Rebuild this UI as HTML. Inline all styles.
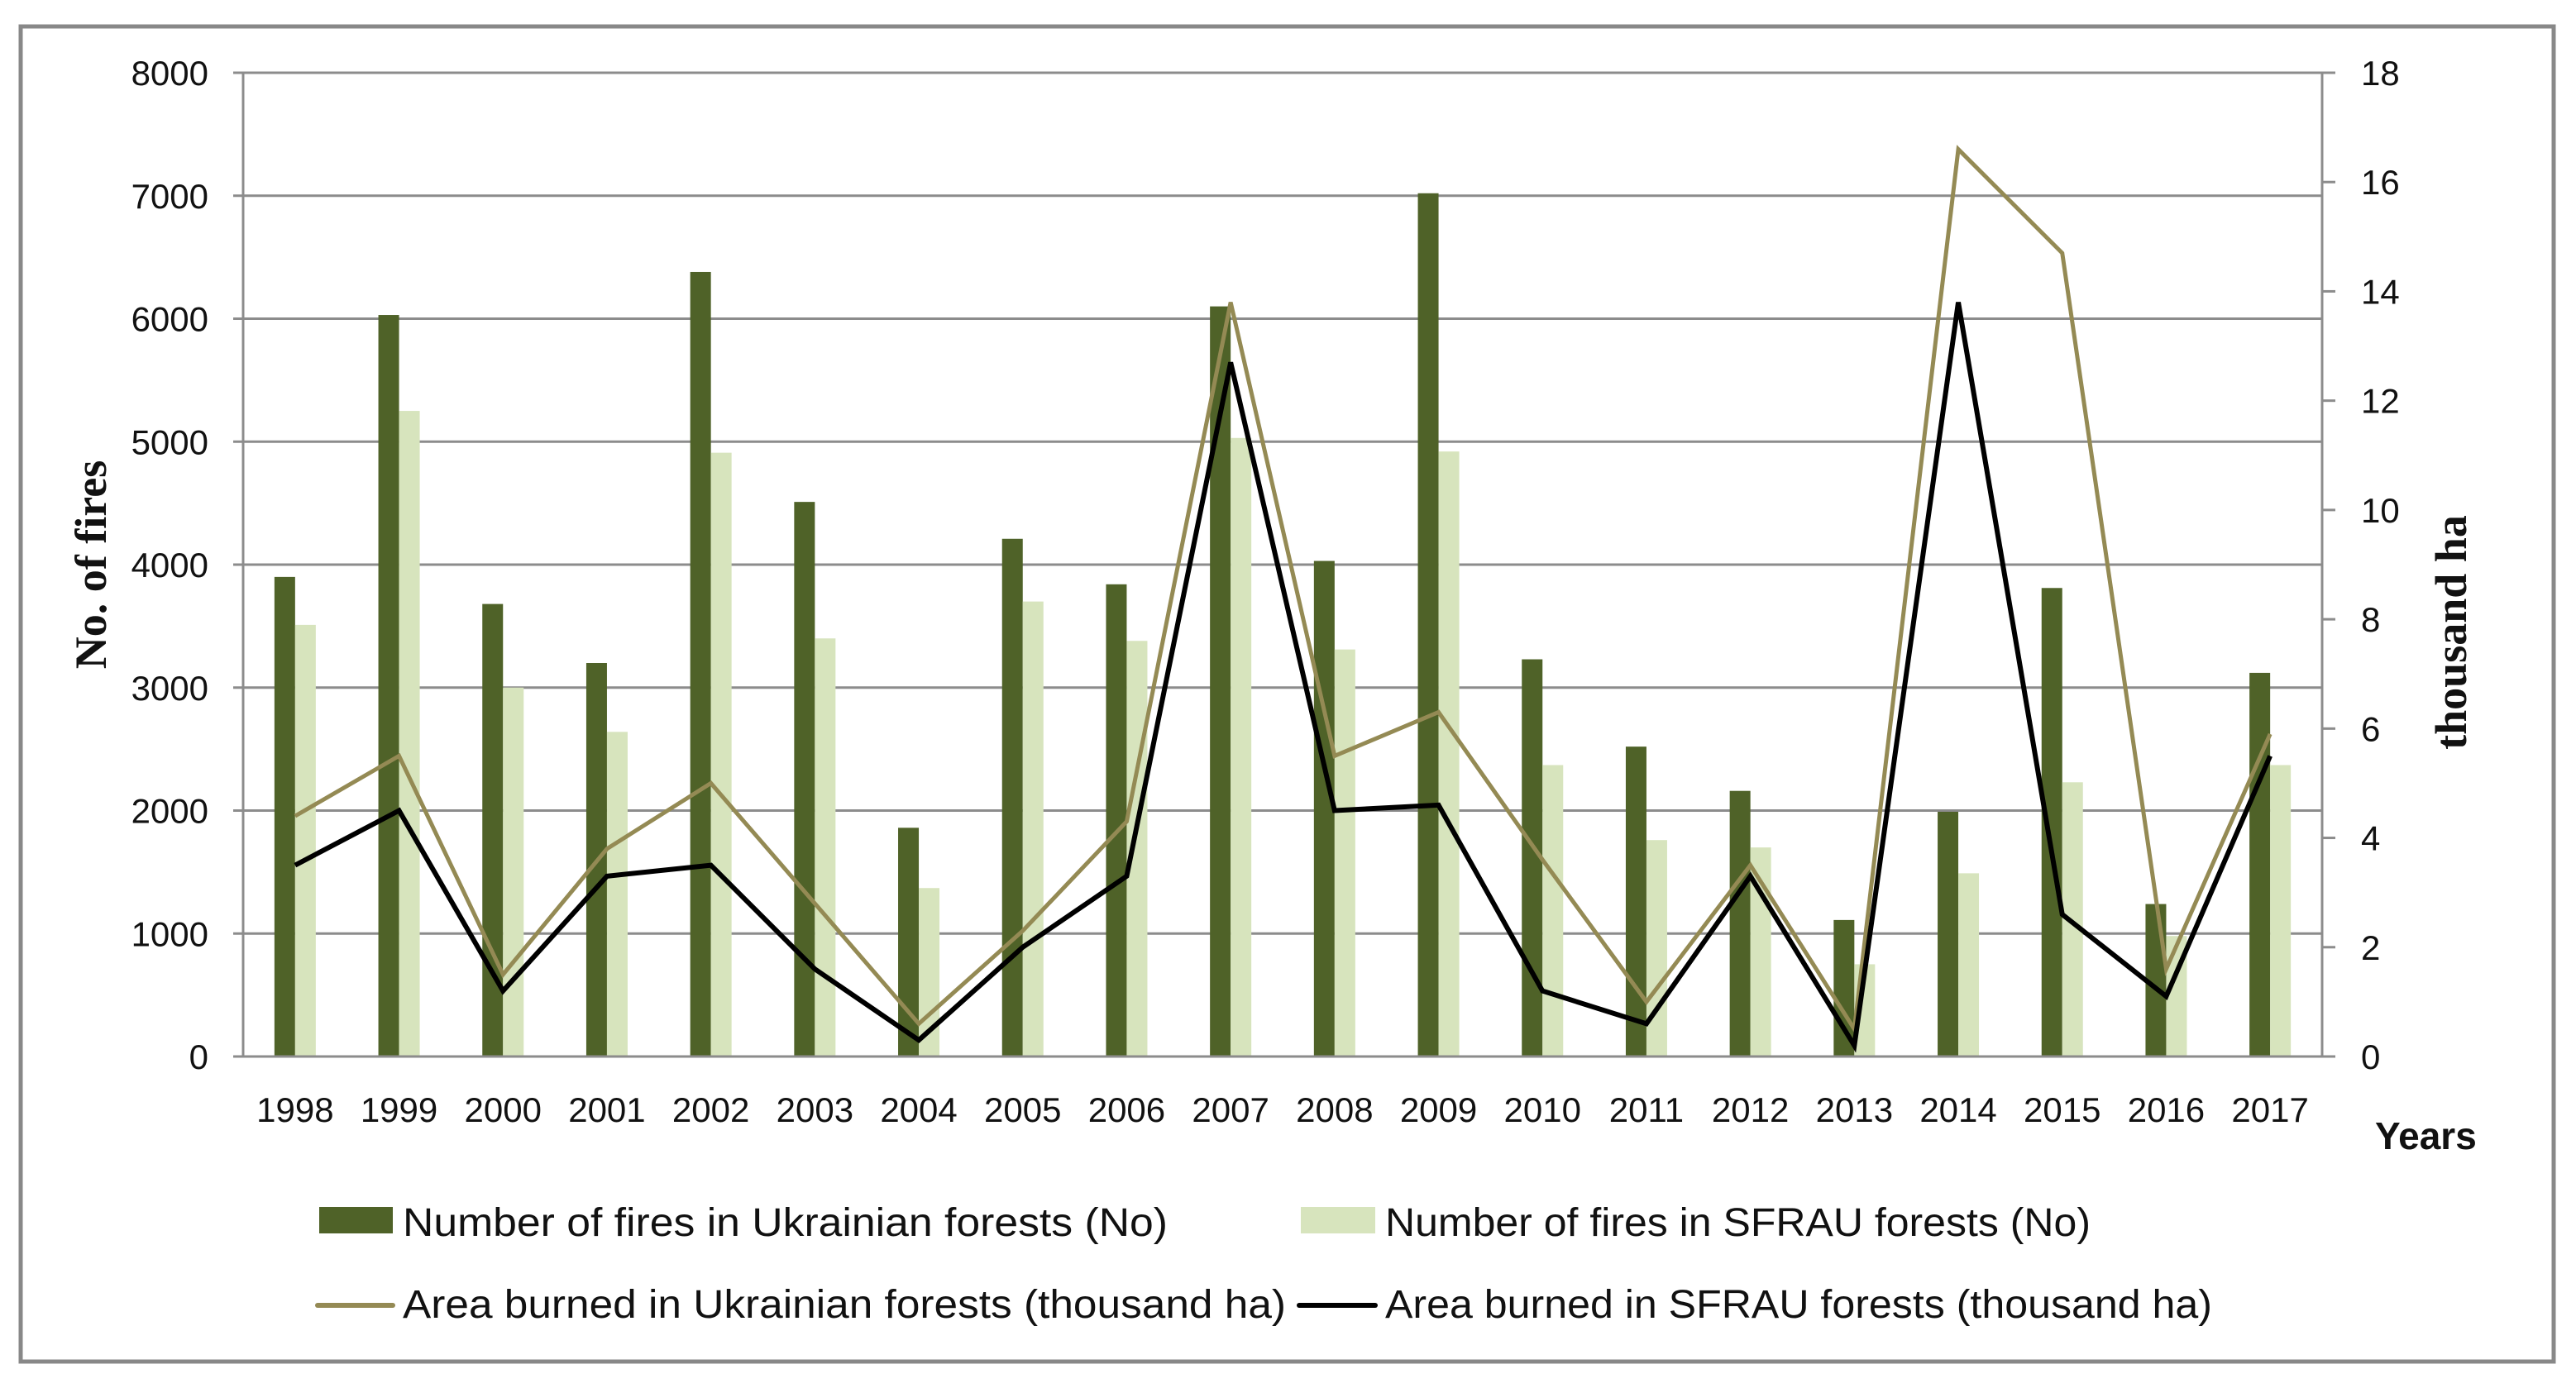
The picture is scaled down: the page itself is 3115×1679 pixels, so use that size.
<!DOCTYPE html>
<html><head><meta charset="utf-8"><style>
html,body{margin:0;padding:0;background:#fff;}
svg{display:block;}
text{font-family:"Liberation Sans",sans-serif;fill:#111;}
</style></head><body>
<svg id="chart" width="3115" height="1679" viewBox="0 0 3115 1679" xmlns="http://www.w3.org/2000/svg">
<rect x="25" y="32" width="3063" height="1615" fill="#fff" stroke="#888" stroke-width="5"/>
<g id="grid"></g><g id="bars"></g><g id="lines"></g><g id="axes"></g>
<text transform="translate(128,683) rotate(-90)" text-anchor="middle" style="font-family:'Liberation Serif',serif;font-weight:bold;font-size:54px">No. of fires</text>
<text transform="translate(2982,765) rotate(-90)" text-anchor="middle" style="font-family:'Liberation Serif',serif;font-weight:bold;font-size:54px">thousand ha</text>
<text x="2872" y="1390" style="font-weight:bold;font-size:46px">Years</text>
<g>
<rect x="386" y="1460" width="89" height="32" fill="#4F6228"/>
<text x="487" y="1495" font-size="48" textLength="925" lengthAdjust="spacingAndGlyphs">Number of fires in Ukrainian forests (No)</text>
<rect x="1573" y="1460" width="90" height="32" fill="#D7E4BD"/>
<text x="1675" y="1495" font-size="48" textLength="853" lengthAdjust="spacingAndGlyphs">Number of fires in SFRAU forests (No)</text>
<line x1="384" y1="1579" x2="475" y2="1579" stroke="#948A54" stroke-width="6" stroke-linecap="round"/>
<text x="487" y="1594" font-size="48" textLength="1068" lengthAdjust="spacingAndGlyphs">Area burned in Ukrainian forests (thousand ha)</text>
<line x1="1571" y1="1579" x2="1663" y2="1579" stroke="#000" stroke-width="6" stroke-linecap="round"/>
<text x="1675" y="1594" font-size="48" textLength="1000" lengthAdjust="spacingAndGlyphs">Area burned in SFRAU forests (thousand ha)</text>
</g>
</svg>
<script>
const years = ["1998","1999","2000","2001","2002","2003","2004","2005","2006","2007","2008","2009","2010","2011","2012","2013","2014","2015","2016","2017"];
const firesUkraine = [3900,6030,3680,3200,6380,4510,1860,4210,3840,6100,4030,7020,3230,2520,2160,1110,1990,3810,1240,3120];
const firesSfrau = [3510,5250,3000,2640,4910,3400,1370,3700,3380,5030,3310,4920,2370,1760,1700,750,1490,2230,980,2370];
const areaUkraine = [4.4,5.5,1.5,3.8,5.0,2.8,0.6,2.3,4.3,13.8,5.5,6.3,3.6,1.0,3.5,0.5,16.6,14.7,1.6,5.9];
const areaSfrau = [3.5,4.5,1.2,3.3,3.5,1.6,0.3,2.0,3.3,12.7,4.5,4.6,1.2,0.6,3.3,0.2,13.8,2.6,1.1,5.5];
const leftTicks = [0,1000,2000,3000,4000,5000,6000,7000,8000];
const rightTicks = [0,2,4,6,8,10,12,14,16,18];

const NS="http://www.w3.org/2000/svg";
const X0=294, X1=2808, Y0=1278, Y1=88;
const band=(X1-X0)/years.length;
const xc=i=>X0+band*(i+0.5);
const yL=v=>Y0-(v/8000)*(Y0-Y1);
const yR=v=>Y0-(v/18)*(Y0-Y1);
function mk(tag,parent,attrs){const e=document.createElementNS(NS,tag);for(const k in attrs)e.setAttribute(k,attrs[k]);parent.appendChild(e);return e;}
const grid=document.getElementById('grid'),bars=document.getElementById('bars'),lines=document.getElementById('lines'),axes=document.getElementById('axes');

leftTicks.forEach(t=>{
  const y=yL(t);
  if(t>0){const g=mk('line',grid,{x1:X0,x2:X1,y1:y,y2:y,stroke:'#8c8c8c','stroke-width':3});
  
  }
  const tk=mk('line',axes,{x1:X0-12,x2:X0,y1:y,y2:y,stroke:'#8c8c8c','stroke-width':3});
  
  
  const tx=mk('text',axes,{x:252,y:y+15,'text-anchor':'end','font-size':42});
  tx.textContent=t;
  
  
});
rightTicks.forEach(t=>{
  const y=yR(t);
  const tk=mk('line',axes,{x1:X1,x2:X1+16,y1:y,y2:y,stroke:'#8c8c8c','stroke-width':3});
  
  
  const tx=mk('text',axes,{x:2855,y:y+15,'font-size':42});
  tx.textContent=t;
  
  
});
const la=mk('line',axes,{x1:X0,x2:X0,y1:Y1,y2:Y0,stroke:'#8c8c8c','stroke-width':3});


const ra=mk('line',axes,{x1:X1,x2:X1,y1:Y1,y2:Y0,stroke:'#8c8c8c','stroke-width':3});


const xa=mk('line',axes,{x1:X0-12,x2:X1+16,y1:Y0,y2:Y0,stroke:'#8c8c8c','stroke-width':3});



years.forEach((yr,i)=>{
  const c=xc(i);
  const b1=mk('rect',bars,{x:c-25,y:yL(firesUkraine[i]),width:25,height:Y0-yL(firesUkraine[i]),fill:'#4F6228'});
  
  
  const b2=mk('rect',bars,{x:c,y:yL(firesSfrau[i]),width:25,height:Y0-yL(firesSfrau[i]),fill:'#D7E4BD'});
  
  
  const tx=mk('text',axes,{x:c,y:1357,'text-anchor':'middle','font-size':42});
  tx.textContent=yr;
  
  
});
const p1=mk('polyline',lines,{points:areaUkraine.map((v,i)=>xc(i)+','+yR(v)).join(' '),fill:'none',stroke:'#948A54','stroke-width':5,'stroke-linejoin':'miter'});


const p2=mk('polyline',lines,{points:areaSfrau.map((v,i)=>xc(i)+','+yR(v)).join(' '),fill:'none',stroke:'#000','stroke-width':6,'stroke-linejoin':'miter'});


</script>
</body></html>
